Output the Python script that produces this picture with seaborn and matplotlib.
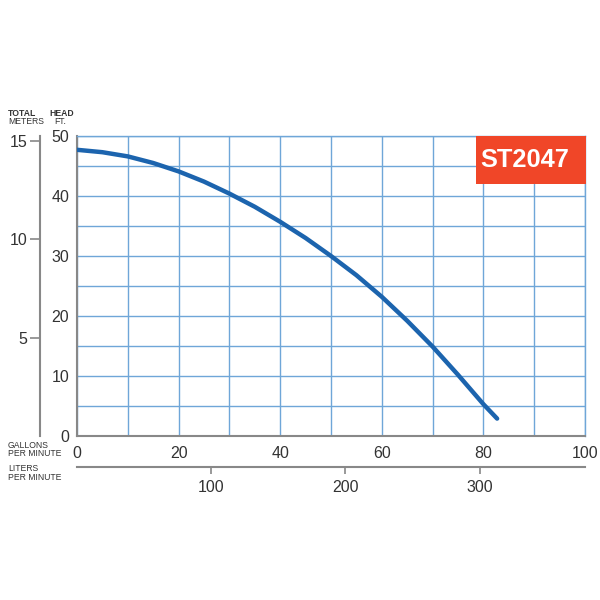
import matplotlib
matplotlib.use("Agg")
import matplotlib.pyplot as plt
import seaborn as sns
import numpy as np
import pandas as pd

# Data
flow_gpm = [0, 5, 10, 15, 20, 25, 30, 35, 40, 45, 50, 55, 60, 65, 70, 75, 80, 82.7]
head_ft = [47.7, 47.3, 46.6, 45.5, 44.1, 42.4, 40.4, 38.2, 35.7, 33.0, 30.0, 26.8,
           23.2, 19.2, 14.9, 10.2, 5.3, 2.9]
gpm_ticks = [0, 20, 40, 60, 80, 100]
ft_ticks = [0, 10, 20, 30, 40, 50]
meter_ticks = [5, 10, 15]
liter_ticks = [100, 200, 300]
model_label = "ST2047"

sns.set_style("white")
plt.rcParams['font.family'] = ['Liberation Sans', 'DejaVu Sans']

W, H = 600, 600
fig = plt.figure(figsize=(6, 6), dpi=100)
L, R, T, B = 77, 585, 136, 436
ax = fig.add_axes([L / W, 1 - B / H, (R - L) / W, (B - T) / H])

df = pd.DataFrame({"gpm": flow_gpm, "ft": head_ft})
grid_c = "#6fa6d8"
sns.lineplot(data=df, x="gpm", y="ft", ax=ax, color="#1c64ae", linewidth=3.2,
             solid_capstyle="round", zorder=5)

TS = 11.5
ax.set_xlim(0, 100)
ax.set_ylim(0, 50)
ax.set_xticks(np.arange(0, 101, 10), minor=True)
ax.set_yticks(np.arange(0, 51, 5), minor=True)
ax.set_xticks(gpm_ticks)
ax.set_yticks(ft_ticks)
ax.set_xticklabels([str(v) for v in gpm_ticks])
ax.set_yticklabels([str(v) for v in ft_ticks])
ax.grid(which="both", color=grid_c, linewidth=1.0)
ax.set_axisbelow(True)
ax.tick_params(axis="both", which="both", length=0, labelsize=TS, colors="#333333")
ax.tick_params(axis="x", pad=7)
ax.tick_params(axis="y", pad=5.5)
ax.set_xlabel("")
ax.set_ylabel("")
for s in ["left", "bottom"]:
    ax.spines[s].set_color("#888888")
    ax.spines[s].set_linewidth(1.5)
for s in ["top", "right"]:
    ax.spines[s].set_color(grid_c)
    ax.spines[s].set_linewidth(1.0)

# Meters axis
ft_per_m = 3.28084
sec_y = ax.secondary_yaxis((40 - L) / (R - L), functions=(lambda f: f / ft_per_m, lambda m: m * ft_per_m))
sec_y.set_yticks(meter_ticks)
sec_y.set_yticklabels([str(v) for v in meter_ticks])
sec_y.tick_params(axis="y", direction="out", length=7, width=1.2, color="#888888",
                  labelsize=TS, labelcolor="#333333", pad=2)
sec_y.spines["left"].set_color("#888888")
sec_y.spines["left"].set_linewidth(1.5)

# Liters axis
l_per_gal = 3.78541
sec_x = ax.secondary_xaxis(-(467 - B) / (B - T), functions=(lambda g: g * l_per_gal, lambda l: l / l_per_gal))
sec_x.set_xticks(liter_ticks)
sec_x.set_xticklabels([str(v) for v in liter_ticks])
sec_x.tick_params(axis="x", direction="out", length=5, width=1.2, color="#888888",
                  labelsize=TS, labelcolor="#333333", pad=4)
sec_x.spines["bottom"].set_color("#888888")
sec_x.spines["bottom"].set_linewidth(1.5)

# Model badge
bx0, bx1, by0, by1 = 476, 586, 136, 184
fig.patches.append(plt.Rectangle((bx0 / W, 1 - by1 / H), (bx1 - bx0) / W, (by1 - by0) / H,
                                 transform=fig.transFigure, facecolor="#f04628",
                                 edgecolor="none", zorder=10))
fig.text(525 / W, 1 - (by0 + by1) / 2 / H, model_label, color="white",
         fontsize=18.3, fontweight="bold", ha="center", va="center", zorder=11)

# Axis caption texts
def ftxt(x, y, s, **kw):
    fig.text(x / W, 1 - y / H, s, fontsize=6.2, color="#333333", va="center", **kw)

ftxt(8, 113, "TOTAL", fontweight="bold")
ftxt(8, 122, "METERS")
ftxt(62, 113, "HEAD", fontweight="bold", ha="center")
ftxt(60, 122, "FT.", ha="center")
ftxt(8, 445, "GALLONS")
ftxt(8, 453.5, "PER MINUTE")
ftxt(8, 468.5, "LITERS")
ftxt(8, 477, "PER MINUTE")

fig.savefig("out.png", dpi=100, facecolor="white")
